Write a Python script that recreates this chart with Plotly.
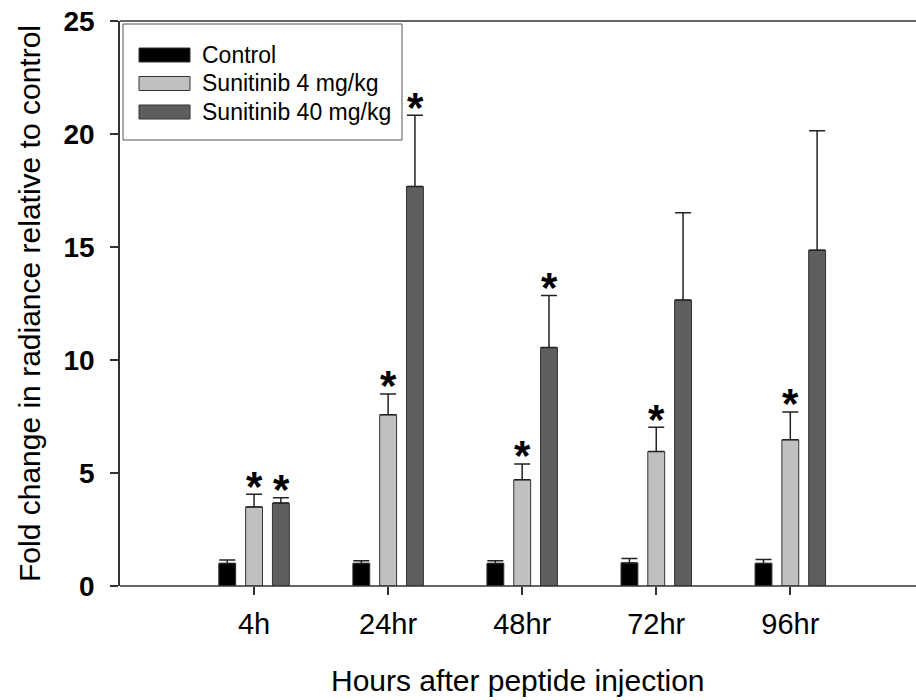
import plotly.graph_objects as go

categories = ["4h", "24hr", "48hr", "72hr", "96hr"]
series_names = ["Control", "Sunitinib 4 mg/kg", "Sunitinib 40 mg/kg"]
control = [1.0, 1.0, 1.0, 1.02, 1.0]
control_err = [0.15, 0.12, 0.12, 0.2, 0.17]
sun4 = [3.5, 7.58, 4.7, 5.95, 6.47]
sun4_err = [0.56, 0.92, 0.7, 1.07, 1.23]
sun40 = [3.67, 17.68, 10.55, 12.65, 14.86]
sun40_err = [0.23, 3.15, 2.3, 3.87, 5.28]
sig4 = [True, True, True, True, True]
sig40 = [True, True, True, False, False]
colors = ["#000000", "#c0c0c0", "#5e5e5e"]

FONT = "Arial, Liberation Sans, sans-serif"
PW = 736  # plot width in px
PH = 565  # plot height in px
EXT = 796 / PW  # right edge of the page in paper units

fig = go.Figure()
for name, vals, errs, col in zip(series_names, [control, sun4, sun40],
                                 [control_err, sun4_err, sun40_err], colors):
    fig.add_trace(go.Bar(
        x=categories, y=vals, name=name, showlegend=False,
        marker=dict(color=col, line=dict(color="#333333", width=1)),
        error_y=dict(type="data", symmetric=False, array=errs,
                     arrayminus=[0] * len(errs), color="#222222",
                     thickness=1.5, width=8),
    ))

# significance asterisks
for shift, vals, errs, sig in [(0, sun4, sun4_err, sig4), (27, sun40, sun40_err, sig40)]:
    for c, v, e, s in zip(categories, vals, errs, sig):
        if s:
            fig.add_annotation(x=c, y=v + e, xref="x", yref="y", text="<b>*</b>",
                               showarrow=False, xshift=shift, yshift=8,
                               yanchor="middle",
                               font=dict(family=FONT, size=42, color="#000000"))

# x axis line and top frame line running to the right edge of the page
fig.add_shape(type="line", xref="paper", yref="paper", x0=0, x1=EXT, y0=1, y1=1,
              line=dict(color="#333333", width=1.5), layer="above")
fig.add_shape(type="line", xref="paper", yref="paper", x0=0, x1=EXT, y0=0, y1=0,
              line=dict(color="#333333", width=1.5), layer="above")

# x axis title, centred on the page-wide axis
fig.add_annotation(xref="paper", yref="paper", x=(518 - 120) / PW, y=-(680 - 586) / PH,
                   text="Hours after peptide injection", showarrow=False,
                   xanchor="center", yanchor="middle",
                   font=dict(family=FONT, size=30, color="#000000"))

# manual legend
fig.add_shape(type="rect", xref="paper", yref="paper",
              x0=(123 - 120) / PW, x1=(402 - 120) / PW,
              y0=(586 - 140) / PH, y1=(586 - 24) / PH,
              line=dict(color="#555555", width=1), fillcolor="white", layer="above")
for i, (name, col) in enumerate(zip(series_names, colors)):
    yc = 55 + i * 28.5
    fig.add_shape(type="rect", xref="paper", yref="paper",
                  x0=(139 - 120) / PW, x1=(190 - 120) / PW,
                  y0=(586 - yc - 7) / PH, y1=(586 - yc + 7) / PH,
                  fillcolor=col, line=dict(color="#333333", width=1), layer="above")
    fig.add_annotation(xref="paper", yref="paper", x=(200 - 120) / PW,
                       y=(586 - yc) / PH, text=name, showarrow=False,
                       xanchor="left", yanchor="middle",
                       font=dict(family=FONT, size=23, color="#000000"))

fig.update_layout(
    width=916, height=700,
    margin=dict(l=120, r=60, t=21, b=114, autoexpand=False),
    paper_bgcolor="white", plot_bgcolor="white",
    barmode="group", bargap=0.4, bargroupgap=0.37,
    font=dict(family=FONT, color="#000000"),
)
fig.update_xaxes(
    range=[-1, 4.49], showline=False,
    ticks="outside", ticklen=8, tickcolor="#333333", tickwidth=1.5,
    tickfont=dict(size=29), ticklabelstandoff=4, showgrid=False, zeroline=False,
    automargin=False,
)
fig.update_yaxes(
    range=[0, 25], tickvals=[0, 5, 10, 15, 20, 25], showline=True, mirror=False,
    linecolor="#333333", linewidth=1.5,
    ticks="outside", ticklen=8, tickcolor="#333333", tickwidth=1.5,
    tickfont=dict(size=28, weight="bold"),
    ticklabelstandoff=10, automargin=False,
    showgrid=False, zeroline=False,
    title=dict(text="Fold change in radiance relative to control", font=dict(size=30), standoff=14),
)

fig.write_html("out.html")
